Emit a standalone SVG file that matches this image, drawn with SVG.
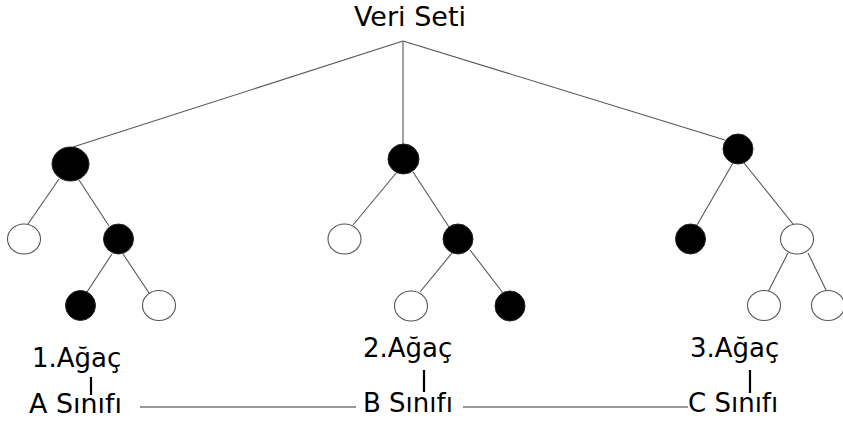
<svg xmlns="http://www.w3.org/2000/svg" width="843" height="422" viewBox="0 0 843 422">
<style>
text { font-family: "DejaVu Sans", Verdana, sans-serif; font-size: 26px; fill: #000; }
.title { font-size: 27px; }
.edge { stroke: #555; stroke-width: 1.1; fill: none; }
.link { stroke: #777; stroke-width: 1.3; fill: none; }
.tick { stroke: #000; stroke-width: 2.2; }
.full { fill: #000; stroke: #222; stroke-width: 1; }
.empty { fill: #fff; stroke: #555; stroke-width: 1.1; }
</style>
<rect width="843" height="422" fill="#fff"/>
<g id="connectors">
  <line class="edge" x1="403" y1="41" x2="73" y2="147"/>
  <line class="edge" x1="403" y1="41" x2="403" y2="144"/>
  <line class="edge" x1="403" y1="41" x2="725" y2="140"/>
  <line class="edge" x1="59" y1="179" x2="28" y2="224"/>
  <line class="edge" x1="79" y1="180" x2="109" y2="226"/>
  <line class="edge" x1="112" y1="254" x2="87" y2="292"/>
  <line class="edge" x1="123" y1="254" x2="149" y2="293"/>
  <line class="edge" x1="397" y1="172" x2="353" y2="225"/>
  <line class="edge" x1="413" y1="172" x2="449" y2="227"/>
  <line class="edge" x1="452" y1="253" x2="420" y2="292"/>
  <line class="edge" x1="470" y1="250" x2="503" y2="293"/>
  <line class="edge" x1="733" y1="163" x2="697" y2="225"/>
  <line class="edge" x1="744" y1="163" x2="793" y2="224"/>
  <line class="edge" x1="788" y1="253" x2="768" y2="292"/>
  <line class="edge" x1="808" y1="253" x2="827" y2="292"/>
  <line class="link" x1="140" y1="407" x2="356" y2="407"/>
  <line class="link" x1="463" y1="407" x2="688" y2="407"/>
  <line class="tick" x1="91" y1="377" x2="91" y2="395"/>
  <line class="tick" x1="424" y1="370" x2="424" y2="392"/>
  <line class="tick" x1="750" y1="370" x2="750" y2="393"/>
</g>
<g id="root"><text class="title" x="410" y="26" text-anchor="middle">Veri Seti</text></g>
<g id="t1-root"><ellipse class="full" cx="70.5" cy="164" rx="18.5" ry="17"/></g>
<g id="t1-l"><ellipse class="empty" cx="24" cy="239" rx="16.5" ry="15"/></g>
<g id="t1-r"><ellipse class="full" cx="118.5" cy="239" rx="15" ry="15"/></g>
<g id="t1-rl"><ellipse class="full" cx="80.5" cy="305.5" rx="15" ry="15"/></g>
<g id="t1-rr"><ellipse class="empty" cx="159" cy="305.5" rx="16.5" ry="15"/></g>
<g id="t2-root"><ellipse class="full" cx="403.5" cy="159" rx="15.5" ry="15"/></g>
<g id="t2-l"><ellipse class="empty" cx="344.5" cy="239" rx="16.5" ry="15"/></g>
<g id="t2-r"><ellipse class="full" cx="458" cy="239" rx="15" ry="15"/></g>
<g id="t2-rl"><ellipse class="empty" cx="411" cy="306" rx="16.5" ry="15"/></g>
<g id="t2-rr"><ellipse class="full" cx="510" cy="306" rx="15" ry="15"/></g>
<g id="t3-root"><ellipse class="full" cx="738" cy="149" rx="15" ry="15"/></g>
<g id="t3-l"><ellipse class="full" cx="690.5" cy="239" rx="15" ry="15"/></g>
<g id="t3-r"><ellipse class="empty" cx="797" cy="239" rx="16.5" ry="15"/></g>
<g id="t3-rl"><ellipse class="empty" cx="764" cy="305.5" rx="16.5" ry="15"/></g>
<g id="t3-rr"><ellipse class="empty" cx="828" cy="305.5" rx="16.5" ry="15"/></g>
<g id="label-1"><text x="32" y="367">1.Ağaç</text></g>
<g id="class-a"><text x="29" y="413" textLength="93" lengthAdjust="spacingAndGlyphs">A Sınıfı</text></g>
<g id="label-2"><text x="363" y="357">2.Ağaç</text></g>
<g id="class-b"><text x="363" y="412">B Sınıfı</text></g>
<g id="label-3"><text x="690" y="357">3.Ağaç</text></g>
<g id="class-c"><text x="688" y="412">C Sınıfı</text></g>
</svg>
